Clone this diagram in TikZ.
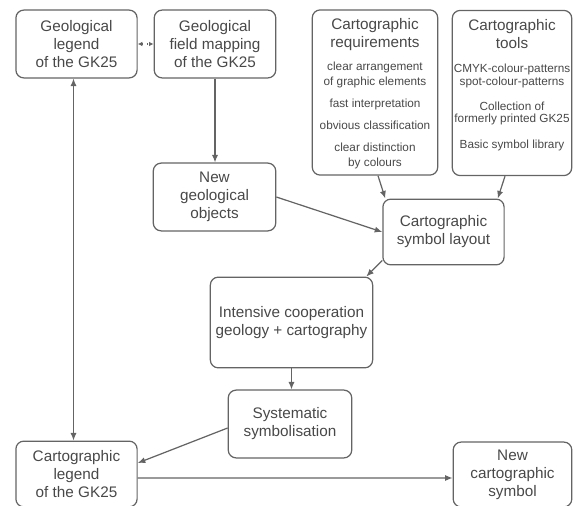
\documentclass[tikz,border=0pt]{standalone}
\usepackage{fontspec}
\setmainfont{Liberation Sans}
\usetikzlibrary{arrows.meta,calc}
\definecolor{borde}{RGB}{100,100,100}
\definecolor{texto}{RGB}{72,72,72}
\newcommand{\tit}{\fontsize{8.7}{10.2}\selectfont}
\newcommand{\peq}{\fontsize{6.7}{8.5}\selectfont}
% tall boxes: text starts at the top
\newcommand{\lista}[2]{\parbox[c][84pt][t]{#1}{\centering #2}}
\tikzset{
  bloque/.style={draw=borde, line width=0.7pt, rounded corners=4.5pt, align=center, text=texto, font=\tit, minimum width=69pt, minimum height=38.6pt, inner sep=2pt},
  columna/.style={bloque, inner sep=0pt, minimum height=94pt},
  fl/.style={-{Latex[length=4.3pt,width=3.5pt]}, line width=0.7pt, borde},
  fldoble/.style={{Latex[length=4.3pt,width=3.5pt]}-{Latex[length=4.3pt,width=3.5pt]}, line width=0.7pt, borde},
  flpunt/.style={{Latex[length=2.6pt,width=2.6pt]}-{Latex[length=2.6pt,width=2.6pt]}, line width=0.8pt, borde, dotted},
}

\begin{document}
\begin{tikzpicture}[x=0.02cm, y=-0.02cm]
  \useasboundingbox (0,0) rectangle (574,506);
  % top row
  \node[bloque] (geolegend) at (76.5,44) {Geological\\legend\\of the GK25};
  \node[bloque, minimum width=69.2pt] (fieldmap) at (215,44) {Geological\\field mapping\\of the GK25};
  \node[columna, minimum width=71.4pt] (requirements) at (375,92.5) {\lista{71.4pt}{\tit Cartographic\\requirements\par\vspace{4.5pt}
    \peq clear arrangement\\of graphic elements\par\vspace{4pt}
    fast interpretation\par\vspace{4pt}
    obvious classification\par\vspace{4pt}
    clear distinction\\by colours}};
  \node[columna, minimum width=68pt] (tools) at (512,93) {\lista{68pt}{\tit Cartographic\\tools\par\vspace{5.5pt}
    \peq CMYK-colour-patterns\\[-1.5pt]spot-colour-patterns\par\vspace{6pt}
    Collection of\\[-1.5pt]formerly printed GK25\par\vspace{6pt}
    Basic symbol library}};
  % middle
  \node[bloque, minimum width=69.7pt] (newgeo) at (214.5,197) {New\\geological\\objects};
  \node[bloque, minimum height=37.4pt] (layout) at (443.5,232) {Cartographic\\symbol layout};
  \node[bloque, minimum width=92.4pt, minimum height=51.6pt] (cooperation) at (291.5,322.5) {Intensive cooperation\\geology + cartography};
  \node[bloque, minimum width=70.3pt] (symbolisation) at (290,424) {Systematic\\symbolisation};
  % bottom row
  \node[bloque, minimum height=37.4pt] (cartolegend) at (76.5,474) {Cartographic\\legend\\of the GK25};
  \node[bloque, minimum width=67.5pt, minimum height=36.9pt] (newsymbol) at (512.5,474.5) {New\\cartographic\\symbol};

  \draw[flpunt] (geolegend) -- (fieldmap);
  \draw[fl] (fieldmap.south) -- (fieldmap.south |- newgeo.north);
  \draw[fl] (newgeo.east) -- (layout.west);
  \draw[fl] ($(requirements.south)+(3,0)$) -- ($(layout.north west)+(3,0)$);
  \draw[fl] ($(tools.south)+(-7,0)$) -- ($(layout.north east)+(-7,0)$);
  \draw[fl] ($(layout.south west)+(0,-5)$) -- ($(cooperation.north east)+(-7,0)$);
  \draw[fl] (cooperation.south) -- (cooperation.south |- symbolisation.north);
  \draw[fl] ($(symbolisation.west)+(0,4)$) -- ($(cartolegend.east)+(0,-11)$);
  \draw[fl] ($(cartolegend.east)+(0,4)$) -- ($(newsymbol.west)+(0,3.5)$);
  \draw[fldoble] ($(geolegend.south)+(-3,0)$) -- ($(cartolegend.north)+(-3,0)$);
\end{tikzpicture}
\end{document}
